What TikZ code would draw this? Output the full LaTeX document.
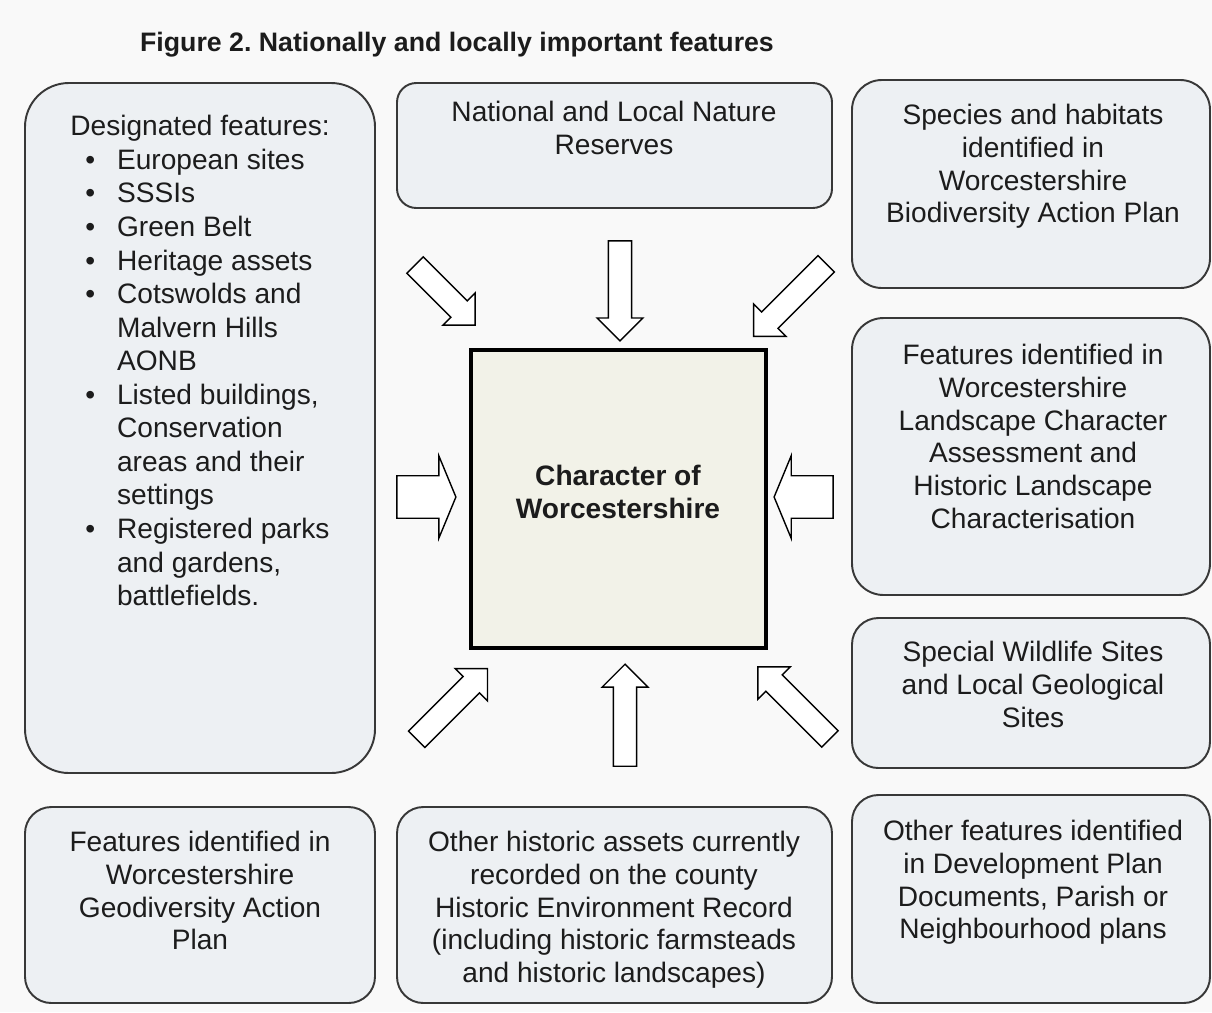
\documentclass[tikz,border=0pt]{standalone}
\usepackage{fontspec}
\setmainfont{Liberation Sans}
\usetikzlibrary{fit,shapes.arrows}
\definecolor{boxfill}{HTML}{EDF0F3}
\definecolor{boxline}{HTML}{383838}
\definecolor{corefill}{HTML}{F2F2E8}
\definecolor{inktext}{HTML}{1C1C1C}
\definecolor{paper}{HTML}{F9F9F9}
\frenchspacing
\begin{document}
\begin{tikzpicture}[x=0.02cm,y=-0.02cm,box/.style={draw=boxline, line width=1.1pt, fill=boxfill, rounded corners=15pt, inner sep=0pt},core/.style={draw=black, line width=2.8pt, fill=corefill, inner sep=0pt},label/.style={font=\fontsize{16}{18.6}\selectfont, text=inktext, align=center, anchor=north, inner sep=0pt},inarrow/.style={single arrow, draw=black, line width=0.8pt, fill=white, inner sep=6.2pt, single arrow head extend=6.4pt, single arrow tip angle=90},sidearrow/.style={single arrow, draw=black, line width=0.8pt, fill=white, inner sep=11.7pt, single arrow head extend=11.4pt, single arrow tip angle=135, minimum height=1.18cm}]
\fill[paper] (0,0) rectangle (1212,1012); \useasboundingbox (0,0) rectangle (1212,1012);
\node[font=\bfseries\fontsize{15.2}{17}\selectfont, text=inktext] (title) at (457,45) {Figure 2. Nationally and locally important features};
% boxes round the centre
\node[box, rounded corners=25pt, fit={(25,83) (375,773)}] (designated) {};
\node[box, rounded corners=11pt, fit={(397,83) (832,208)}] (reserves) {};
\node[box, rounded corners=17pt, fit={(852,80) (1210,288)}] (species) {};
\node[box, rounded corners=18pt, fit={(852,318) (1210,595)}] (landscape) {};
\node[box, fit={(852,618) (1210,768)}] (wildlife) {};
\node[box, fit={(25,807) (375,1003)}] (geodiv) {};
\node[box, fit={(397,807) (832,1003)}] (historic) {};
\node[box, fit={(852,795) (1210,1003)}] (devplan) {};
\node[core, fit={(471,350) (766,648)}] (character) {};
% texts
\node[label, font=\fontsize{16}{19.1}\selectfont, anchor=north west, align=left] (designatedtext) at (70,112) {\begin{tabular}{@{\hspace{8.5pt}}l@{\hspace{12.5pt}}l@{}}\multicolumn{2}{@{}l@{}}{Designated features:}\\ \textbullet & European sites\\ \textbullet & SSSIs\\ \textbullet & Green Belt\\ \textbullet & Heritage assets\\ \textbullet & Cotswolds and\\ & Malvern Hills\\ & AONB\\ \textbullet & Listed buildings,\\ & Conservation\\ & areas and their\\ & settings\\ \textbullet & Registered parks\\ & and gardens,\\ & battlefields.\end{tabular}};
\node[label] (reservestext) at (614,101) {National and Local Nature\\Reserves};
\node[label] (speciestext) at (1033,104) {Species and habitats\\identified in\\Worcestershire\\Biodiversity Action Plan};
\node[label] (landscapetext) at (1033,344) {Features identified in\\Worcestershire\\Landscape Character\\Assessment and\\Historic Landscape\\Characterisation};
\node[label] (wildlifetext) at (1033,641) {Special Wildlife Sites\\and Local Geological\\Sites};
\node[label] (geodivtext) at (200,831) {Features identified in\\Worcestershire\\Geodiversity Action\\Plan};
\node[label] (historictext) at (614,831) {Other historic assets currently\\recorded on the county\\Historic Environment Record\\(including historic farmsteads\\and historic landscapes)};
\node[label] (devplantext) at (1033,820) {Other features identified\\in Development Plan\\Documents, Parish or\\Neighbourhood plans};
\node[label, font=\bfseries\fontsize{16}{18.6}\selectfont] (charactertext) at (618,465) {Character of\\Worcestershire};
% block arrows pointing in
\node[inarrow, minimum height=2cm, rotate=-90] (arrowN) at (620,285) {};
\node[inarrow, minimum height=1.7cm, rotate=-45] (arrowNW) at (441,291) {};
\node[inarrow, minimum height=2.05cm, rotate=-135] (arrowNE) at (794,296) {};
\node[sidearrow] (arrowW) at (422,497) {};
\node[sidearrow, rotate=180] (arrowE) at (808,497) {};
\node[inarrow, minimum height=2cm, rotate=45] (arrowSW) at (448,708) {};
\node[inarrow, minimum height=2.04cm, rotate=90] (arrowS) at (625,721) {};
\node[inarrow, minimum height=2.04cm, rotate=135] (arrowSE) at (798,707) {};
\end{tikzpicture}
\end{document}
